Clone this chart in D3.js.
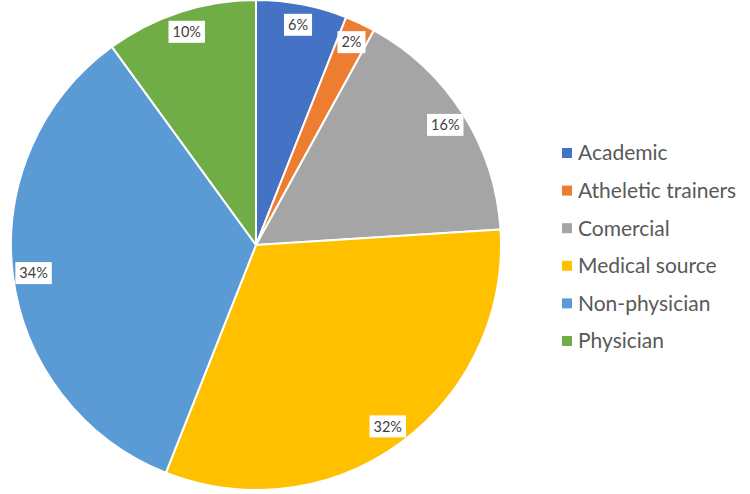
<!DOCTYPE html>
<html>
<head>
<meta charset="utf-8">
<script src="https://cdn.jsdelivr.net/npm/d3@7"></script>
<style>
  html, body { margin: 0; padding: 0; background: #fff; }
  svg { display: block; }
</style>
</head>
<body>
<svg id="chart" width="750" height="494"></svg>
<script>
const categories = ["Academic", "Atheletic trainers", "Comercial", "Medical source", "Non-physician", "Physician"];
const values = [6, 2, 16, 32, 34, 10];
const labels = ["6%", "2%", "16%", "32%", "34%", "10%"];
const colors = ["#4472C4", "#ED7D31", "#A5A5A5", "#FFC000", "#5B9BD5", "#70AD47"];

const svg = d3.select("#chart");
const cx = 256, cy = 245, R = 245;
const font = "Lato, 'Open Sans', sans-serif";

const data = categories.map((c, i) => ({ cat: c, value: values[i], label: labels[i], color: colors[i] }));

const pie = d3.pie().value(d => d.value).sort(null);
const arc = d3.arc().innerRadius(0).outerRadius(R);
const labelArc = d3.arc().innerRadius(R * 0.915).outerRadius(R * 0.915);
const arcs = pie(data);

const g = svg.append("g").attr("transform", `translate(${cx},${cy})`);

g.selectAll("path.slice").data(arcs).enter().append("path")
  .attr("class", "slice")
  .attr("d", arc)
  .attr("fill", d => d.data.color)
  .attr("stroke", "#fff")
  .attr("stroke-width", 2)
  .attr("stroke-linejoin", "round");

const lg = g.selectAll("g.lbl").data(arcs).enter().append("g")
  .attr("class", "lbl")
  .attr("transform", d => `translate(${labelArc.centroid(d)})`);

lg.each(function(d) {
  const sel = d3.select(this);
  const t = sel.append("text")
    .attr("text-anchor", "middle")
    .attr("dy", "0.36em")
    .attr("font-family", font)
    .attr("font-size", 14.5)
    .attr("fill", "#404040")
    .text(d.data.label);
  const bb = t.node().getBBox();
  sel.insert("rect", "text")
    .attr("x", bb.x - 4)
    .attr("y", -11)
    .attr("width", bb.width + 8)
    .attr("height", 22)
    .attr("fill", "#fff");
});

const legend = svg.append("g").attr("transform", "translate(562,153)");
const li = legend.selectAll("g").data(data).enter().append("g")
  .attr("transform", (d, i) => `translate(0,${i * 37.6})`);
li.append("rect")
  .attr("x", 0).attr("y", -5)
  .attr("width", 10).attr("height", 10)
  .attr("fill", d => d.color);
li.append("text")
  .attr("x", 16)
  .attr("dy", "0.35em")
  .attr("font-family", font)
  .attr("font-size", 21)
  .attr("fill", "#595959")
  .text(d => d.cat);
</script>
</body>
</html>
